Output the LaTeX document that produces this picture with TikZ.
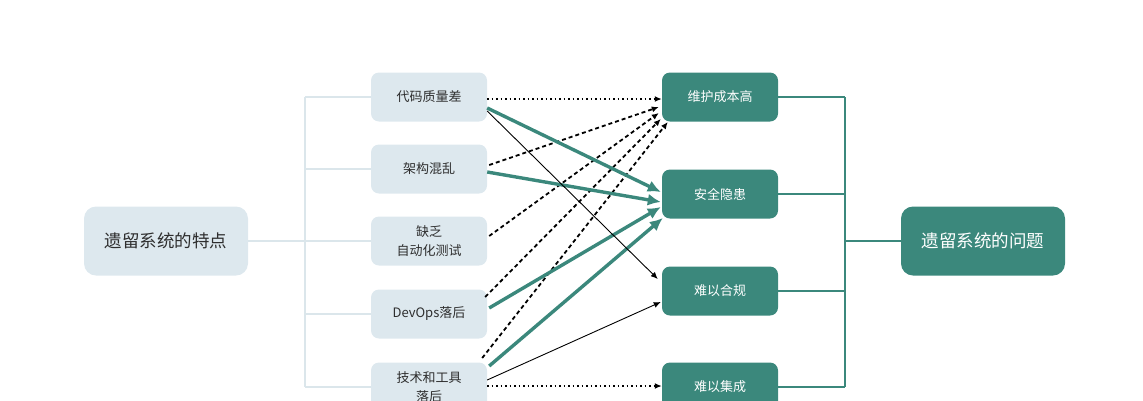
\documentclass[tikz,border=0pt]{standalone}
\usepackage{fontspec}
\setmainfont{Noto Sans CJK SC}
\usepackage{tikz}
\usetikzlibrary{arrows.meta}
\definecolor{Mist}{HTML}{DDE8EE}
\definecolor{MistLine}{HTML}{DBE6EB}
\definecolor{Teal}{HTML}{3B887C}
\definecolor{Ink}{HTML}{2E2E2E}

\begin{document}
\begin{tikzpicture}[x=1pt, y=-1pt,
        every node/.append style={align=center, inner sep=0pt},
        >={Latex[length=7pt, width=6pt]}]
      \tikzstyle{trait} = [fill=Mist, text=Ink, rounded corners=8pt, minimum width=116pt, minimum height=49pt, font=\fontsize{13}{19}\selectfont]
      \tikzstyle{issue} = [fill=Teal, text=white, rounded corners=8pt, minimum width=116pt, minimum height=49pt, font=\fontsize{13}{19}\selectfont]
      \tikzstyle{root} = [rounded corners=12pt, minimum width=164pt, minimum height=69pt, font=\fontsize{17.5}{20}\selectfont]
      \tikzstyle{lbus} = [draw=MistLine, line width=2.6pt]
      \tikzstyle{rbus} = [draw=Teal, line width=2.6pt]
      \tikzstyle{dotlink} = [->, line width=1.5pt, dash pattern=on 1.5pt off 3pt]
      \tikzstyle{dashlink} = [->, line width=1.8pt, dash pattern=on 4pt off 3pt]
      \tikzstyle{heavy} = [->, draw=Teal, line width=3.4pt, >={Latex[length=13pt, width=12pt]}]
      \tikzstyle{thin} = [->, line width=0.9pt]
      \useasboundingbox (0,0) rectangle (1143,400);
      % left side
      \node (Traits) [root, fill=Mist, text=Ink] at (166,241) {遗留系统的特点};
      \node (Code) [trait] at (429,97) {代码质量差};
      \node (Arch) [trait] at (429,169) {架构混乱};
      \node (Test) [trait] at (429,241) {缺乏\\自动化测试};
      \node (DevOps) [trait] at (429,314) {DevOps落后};
      \node (Tools) [trait] at (429,387) {技术和工具\\落后};
      % right side
      \node (Cost) [issue] at (720,97) {维护成本高};
      \node (Safe) [issue] at (720,194) {安全隐患};
      \node (Comply) [issue] at (720,291) {难以合规};
      \node (Integ) [issue] at (720,387) {难以集成};
      \node (Issues) [root, fill=Teal, text=white] at (983,241) {遗留系统的问题};
      % brackets
      \coordinate (LB) at (305,241);
      \coordinate (RB) at (845,241);
      \draw[lbus] (Traits.east) -- (Test.west);
      \draw[lbus] (LB |- Code.west) -- (LB |- Tools.west);
      \foreach \n in {Code, Arch, DevOps, Tools}
        \draw[lbus] (LB |- \n.west) -- (\n.west);
      \draw[rbus] (RB |- Cost.east) -- (RB |- Integ.east);
      \foreach \n in {Cost, Safe, Comply, Integ}
        \draw[rbus] (\n.east) -- (RB |- \n.east);
      \draw[rbus] (RB) -- (Issues.west);
      % links
      \draw[dotlink] ([yshift=-2pt]Code.east) -- ([yshift=-2pt]Cost.west);
      \draw[dotlink] ([yshift=1pt]Tools.east) -- ([yshift=1pt]Integ.west);
      \draw[dashlink] ([xshift=2pt,yshift=4pt]Arch.east) -- ([xshift=-3pt,yshift=-10pt]Cost.west);
      \draw[dashlink] ([xshift=2pt,yshift=5pt]Test.east) -- ([xshift=-3pt,yshift=-16pt]Cost.west);
      \draw[dashlink] ([xshift=-2pt,yshift=17pt]DevOps.east) -- ([xshift=-1pt,yshift=-22pt]Cost.west);
      \draw[dashlink] ([xshift=-5pt,yshift=29pt]Tools.east) -- ([xshift=6pt,yshift=-25pt]Cost.west);
      \draw[heavy] ([yshift=-11pt]Code.east) -- ([xshift=-1pt,yshift=2pt]Safe.west);
      \draw[heavy] ([yshift=-3pt]Arch.east) -- ([xshift=-1pt,yshift=-8pt]Safe.west);
      \draw[heavy] ([xshift=2pt,yshift=6pt]DevOps.east) -- ([xshift=-1pt,yshift=-13pt]Safe.west);
      \draw[heavy] ([xshift=2pt,yshift=21pt]Tools.east) -- ([xshift=1pt,yshift=-24pt]Safe.west);
      \draw[thin] ([yshift=-14pt]Code.east) -- ([xshift=-4pt,yshift=12pt]Comply.west);
      \draw[thin] ([yshift=7pt]Tools.east) -- ([xshift=-1pt,yshift=-11pt]Comply.west);
    \end{tikzpicture}
\end{document}
